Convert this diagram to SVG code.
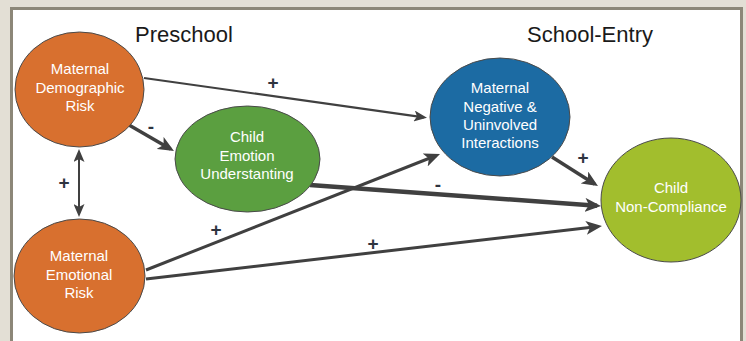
<svg xmlns="http://www.w3.org/2000/svg" width="746" height="341" viewBox="0 0 746 341">
<defs>
<style>
.node{stroke:#4a4a4a;stroke-width:1}
.nt{font-family:"Liberation Sans",Arial,sans-serif;font-size:15px;fill:#ffffff;text-anchor:middle}
.title{font-family:"Liberation Sans",Arial,sans-serif;font-size:22px;fill:#1a1a1a;text-anchor:middle}
.lbl{font-family:"Liberation Sans",Arial,sans-serif;font-size:19px;font-weight:bold;fill:#2e3440;text-anchor:middle}
.edge{fill:none;stroke:#404040;stroke-linecap:butt}
</style>
<marker id="ah" viewBox="0 0 16 14" refX="12" refY="7" markerWidth="16" markerHeight="14" markerUnits="userSpaceOnUse" orient="auto">
<path d="M0,0 L16,7 L0,14 L4,7 z" fill="#404040"/>
</marker>
<marker id="ahs" viewBox="0 0 13 11" refX="10" refY="5.5" markerWidth="13" markerHeight="11" markerUnits="userSpaceOnUse" orient="auto-start-reverse">
<path d="M0,0 L13,5.5 L0,11 L3,5.5 z" fill="#404040"/>
</marker>
</defs>
<rect x="0" y="0" width="746" height="341" fill="#e3dfd5"/>
<rect x="11.5" y="8.5" width="730" height="340" fill="#ffffff" stroke="#8c8778" stroke-width="3"/>
<text class="title" x="184" y="42">Preschool</text>
<text class="title" x="590" y="42">School-Entry</text>
<g id="connectors">
<path class="edge" d="M144,78 L424,117.4" stroke-width="2.2" marker-end="url(#ahs)"/>
<path class="edge" d="M129,125 L170.5,149" stroke-width="3.5" marker-end="url(#ah)"/>
<path class="edge" d="M79,152 L79,214" stroke-width="2" marker-start="url(#ahs)" marker-end="url(#ahs)"/>
<path class="edge" d="M146,270 L436.3,155.5" stroke-width="3" marker-end="url(#ah)"/>
<path class="edge" d="M146,279 L598,226.5" stroke-width="3" marker-end="url(#ah)"/>
<path class="edge" d="M310,185 L597,205.7" stroke-width="4.5" marker-end="url(#ah)"/>
<path class="edge" d="M552,157 L594.6,183.9" stroke-width="3.5" marker-end="url(#ah)"/>
<text class="lbl" x="273" y="89">+</text>
<text class="lbl" x="151" y="133">-</text>
<text class="lbl" x="64" y="189">+</text>
<text class="lbl" x="216" y="236">+</text>
<text class="lbl" x="373" y="250">+</text>
<text class="lbl" x="438" y="191">-</text>
<text class="lbl" x="583" y="164">+</text>
</g>
<g id="demographic">
<ellipse class="node" cx="79.5" cy="89.5" rx="64.5" ry="57.5" fill="#d8702f"/>
<text class="nt" x="80" y="74">Maternal</text>
<text class="nt" x="80" y="93">Demographic</text>
<text class="nt" x="80" y="111">Risk</text>
</g>
<g id="emotional">
<ellipse class="node" cx="79.5" cy="276" rx="65.5" ry="57" fill="#d8702f"/>
<text class="nt" x="79" y="261">Maternal</text>
<text class="nt" x="79" y="280">Emotional</text>
<text class="nt" x="79" y="298">Risk</text>
</g>
<g id="emotion-understanding">
<ellipse class="node" cx="247.5" cy="159" rx="72.5" ry="53" fill="#5b9f40"/>
<text class="nt" x="247" y="142">Child</text>
<text class="nt" x="247" y="161">Emotion</text>
<text class="nt" x="247" y="179">Understanting</text>
</g>
<g id="negative">
<ellipse class="node" cx="500" cy="117" rx="70" ry="59" fill="#1c6ba3"/>
<text class="nt" x="500" y="93">Maternal</text>
<text class="nt" x="500" y="112">Negative &amp;</text>
<text class="nt" x="500" y="130">Uninvolved</text>
<text class="nt" x="500" y="148">Interactions</text>
</g>
<g id="noncompliance">
<ellipse class="node" cx="671" cy="200" rx="70" ry="62" fill="#a2be2d"/>
<text class="nt" x="671" y="193">Child</text>
<text class="nt" x="671" y="212">Non-Compliance</text>
</g>
</svg>
